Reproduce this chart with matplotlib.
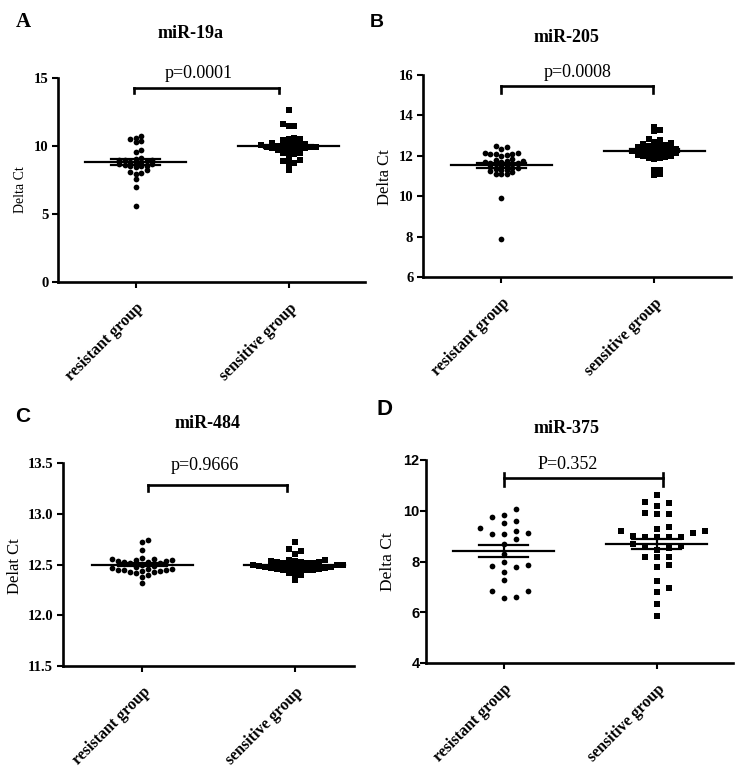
import numpy as np
import matplotlib
matplotlib.use('Agg')
import matplotlib.pyplot as plt

## data
groups = ['resistant group', 'sensitive group']

mir19a_resistant = [10.7, 10.6, 10.55, 10.4, 10.3, 9.7, 9.55, 9.1, 9.05, 9.0, 9.0, 8.95, 8.9, 8.85,
                    8.8, 8.75, 8.7, 8.65, 8.6, 8.55, 8.5, 8.5, 8.45, 8.2, 8.1, 8.0, 7.95, 7.55, 6.95, 5.6]
mir19a_sensitive = [12.65, 11.6, 11.5, 11.45, 10.6, 10.55, 10.5, 10.45, 10.3, 10.25, 10.2, 10.15, 10.1,
                    10.1, 10.05, 10.0, 10.0, 9.95, 9.95, 9.9, 9.9, 9.85, 9.85, 9.8, 9.75, 9.7, 9.7, 9.65,
                    9.5, 9.45, 9.4, 9.35, 9.0, 8.95, 8.9, 8.75, 8.7, 8.25]

mir205_resistant = [12.47, 12.45, 12.35, 12.15, 12.12, 12.1, 12.1, 12.08, 12.05, 11.98, 11.85, 11.8,
                    11.75, 11.72, 11.7, 11.68, 11.65, 11.62, 11.6, 11.58, 11.55, 11.5, 11.45, 11.42,
                    11.4, 11.35, 11.3, 11.28, 11.25, 11.2, 11.12, 11.1, 11.08, 9.9, 7.9]
mir205_sensitive = [13.45, 13.3, 13.22, 12.85, 12.8, 12.7, 12.62, 12.58, 12.55, 12.5, 12.48, 12.45,
                    12.42, 12.4, 12.38, 12.35, 12.32, 12.3, 12.28, 12.25, 12.25, 12.22, 12.2, 12.18,
                    12.15, 12.12, 12.1, 12.08, 12.05, 12.02, 12.0, 11.98, 11.95, 11.9, 11.88, 11.85,
                    11.32, 11.3, 11.08, 11.05]

mir484_resistant = [12.74, 12.72, 12.64, 12.56, 12.55, 12.55, 12.54, 12.54, 12.53, 12.53, 12.52, 12.52,
                    12.51, 12.51, 12.50, 12.49, 12.48, 12.47, 12.46, 12.46, 12.45, 12.45, 12.45, 12.44,
                    12.44, 12.43, 12.43, 12.42, 12.40, 12.38, 12.32]
mir484_sensitive = [12.72, 12.65, 12.63, 12.6, 12.54, 12.54, 12.53, 12.53, 12.52, 12.52, 12.52, 12.51,
                    12.51, 12.51, 12.50, 12.50, 12.50, 12.49, 12.48, 12.48, 12.48, 12.47, 12.47, 12.47,
                    12.46, 12.46, 12.46, 12.45, 12.45, 12.45, 12.42, 12.41, 12.40, 12.35]

mir375_resistant = [10.05, 9.83, 9.74, 9.6, 9.53, 9.33, 9.21, 9.14, 9.09, 9.09, 8.88, 8.7, 8.3, 8.0,
                    7.87, 7.84, 7.8, 7.6, 7.26, 6.84, 6.82, 6.59, 6.57]
mir375_sensitive = [10.62, 10.36, 10.32, 10.2, 9.93, 9.86, 9.86, 9.37, 9.28, 9.21, 9.2, 9.13, 9.0, 8.97,
                    8.97, 8.95, 8.95, 8.68, 8.6, 8.58, 8.55, 8.45, 8.16, 8.16, 8.16, 7.88, 7.79, 7.24,
                    6.95, 6.8, 6.34, 5.86]

p_labels = ['p=0.0001', 'p=0.0008', 'p=0.9666', 'P=0.352']
titles = ['miR-19a', 'miR-205', 'miR-484', 'miR-375']
ylabels = ['Delta Ct', 'Delta Ct', 'Delat Ct', 'Delta Ct']
letters = ['A', 'B', 'C', 'D']

SERIF = 'Liberation Serif'
SANS = 'Liberation Sans'
W, H = 747, 775


def fx(px):
    return px / W


def fy(py):
    return 1 - py / H


def swarm(ax, x0, values, w_px, h_px):
    ## greedy column scatter, done in pixel space
    trans = ax.transData
    ppu = trans.transform((1, 0))[0] - trans.transform((0, 0))[0]
    ys = [trans.transform((0, v))[1] for v in values]
    order = np.argsort(values)
    placed = []
    xs = np.zeros(len(values))
    for i in order:
        k = 0
        while True:
            step = (k + 1) // 2 * (1 if k % 2 else -1) if k else 0
            dx = step * w_px / 2
            ok = True
            for (px, py) in placed:
                if abs(px - dx) < w_px - 0.01 and abs(py - ys[i]) < h_px:
                    ok = False
                    break
            if ok:
                break
            k += 1
        placed.append((dx, ys[i]))
        xs[i] = x0 + dx / ppu
    return xs


def panel(ax, data, ylim, yticks, yfmt, xlim, bracket, ptext, w_px, h_px, tickfont):
    ax.set_xlim(*xlim)
    ax.set_ylim(*ylim)
    for side in ['top', 'right']:
        ax.spines[side].set_visible(False)
    for side in ['left', 'bottom']:
        ax.spines[side].set_linewidth(1.9)

    markers = ['o', 's']
    sizes = [17, 14]
    for i, vals in enumerate(data):
        xs = swarm(ax, i, vals, w_px, h_px)
        ax.scatter(xs, vals, marker=markers[i], s=sizes[i], color='black', linewidths=0, zorder=3)
        m = np.mean(vals)
        sem = np.std(vals, ddof=1) / np.sqrt(len(vals))
        ax.plot([i - 0.33, i + 0.33], [m, m], color='black', lw=1.6, zorder=4)
        ax.plot([i - 0.16, i + 0.16], [m + sem, m + sem], color='black', lw=1.6, zorder=4)
        ax.plot([i - 0.16, i + 0.16], [m - sem, m - sem], color='black', lw=1.6, zorder=4)
        ax.plot([i, i], [m - sem, m + sem], color='black', lw=1.6, zorder=4)

    ## significance bracket
    x1, x2, ytop, ylow, yhigh = bracket
    ax.plot([x1, x2], [ytop, ytop], color='black', lw=1.9, clip_on=False)
    ax.plot([x1, x1], [ylow, yhigh], color='black', lw=1.9, clip_on=False)
    ax.plot([x2, x2], [ylow, yhigh], color='black', lw=1.9, clip_on=False)
    ax.text(ptext[0], ptext[1], ptext[2], ha='center', va='baseline', fontsize=13,
            family=SERIF, clip_on=False)

    ax.set_yticks(yticks)
    ax.set_yticklabels([yfmt.format(t) for t in yticks], fontsize=tickfont[1],
                       family=tickfont[0], fontweight='bold')
    ax.set_xticks([0, 1])
    ax.set_xticklabels(groups, rotation=45, ha='right', va='top', rotation_mode='anchor',
                       fontsize=11.5, family=SERIF, fontweight='bold')
    ax.tick_params(axis='y', direction='out', length=4, width=1.5, pad=tickfont[2])
    ax.tick_params(axis='x', direction='out', length=4, width=1.5, pad=9)


fig = plt.figure(figsize=(W / 100, H / 100), dpi=100)

axA = fig.add_axes([fx(58), fy(282), fx(365 - 58), (282 - 78) / H])
axB = fig.add_axes([fx(423), fy(277), fx(731 - 423), (277 - 75) / H])
axC = fig.add_axes([fx(63), fy(666), fx(354 - 63), (666 - 463) / H])
axD = fig.add_axes([fx(426), fy(663), fx(733 - 426), (663 - 460) / H])

panel(axA, [mir19a_resistant, mir19a_sensitive], (0, 15), [0, 5, 10, 15], '{:.0f}', (-0.51, 1.5),
      (-0.01, 0.94, 14.3, 13.9, 14.3), (0.41, 14.98, p_labels[0]), 5.5, 3.8, (SERIF, 10.5, 3))
panel(axB, [mir205_resistant, mir205_sensitive], (6, 16), [6, 8, 10, 12, 14, 16], '{:.0f}', (-0.51, 1.5),
      (0.0, 0.99, 15.46, 15.12, 15.46), (0.5, 15.88, p_labels[1]), 5.5, 3.8, (SERIF, 10.5, 3))
panel(axC, [mir484_resistant, mir484_sensitive], (11.5, 13.5), [11.5, 12.0, 12.5, 13.0, 13.5], '{:.1f}',
      (-0.52, 1.39), (0.04, 0.95, 13.28, 13.22, 13.28), (0.41, 13.43, p_labels[2]), 6, 5.5,
      (SERIF, 10.5, 3))
panel(axD, [mir375_resistant, mir375_sensitive], (4, 12), [4, 6, 8, 10, 12], '{:.0f}', (-0.51, 1.5),
      (0.0, 1.04, 11.28, 10.97, 11.47), (0.415, 11.63, p_labels[3]), 12, 7, (SANS, 10.5, 0.5))

## titles, panel letters, y labels
fig.text(fx(191), fy(38), titles[0], ha='center', va='baseline', fontsize=13, family=SERIF, fontweight='bold')
fig.text(fx(566), fy(42), titles[1], ha='center', va='baseline', fontsize=13, family=SERIF, fontweight='bold')
fig.text(fx(208), fy(428), titles[2], ha='center', va='baseline', fontsize=13, family=SERIF, fontweight='bold')
fig.text(fx(567), fy(433), titles[3], ha='center', va='baseline', fontsize=13, family=SERIF, fontweight='bold')

fig.text(fx(16), fy(27), letters[0], ha='left', va='baseline', fontsize=15, family=SERIF, fontweight='bold')
fig.text(fx(370), fy(27), letters[1], ha='left', va='baseline', fontsize=14, family=SANS, fontweight='bold')
fig.text(fx(15), fy(422), letters[2], ha='left', va='baseline', fontsize=15, family=SANS, fontweight='bold')
fig.text(fx(377), fy(415), letters[3], ha='left', va='baseline', fontsize=16, family=SANS, fontweight='bold')

fig.text(fx(20), fy(190), ylabels[0], rotation=90, ha='center', va='center', fontsize=10, family=SERIF)
fig.text(fx(385), fy(177), ylabels[1], rotation=90, ha='center', va='center', fontsize=12, family=SERIF)
fig.text(fx(15), fy(566), ylabels[2], rotation=90, ha='center', va='center', fontsize=12, family=SERIF)
fig.text(fx(388), fy(562), ylabels[3], rotation=90, ha='center', va='center', fontsize=12.5, family=SERIF)

fig.savefig('out.png', dpi=100)
